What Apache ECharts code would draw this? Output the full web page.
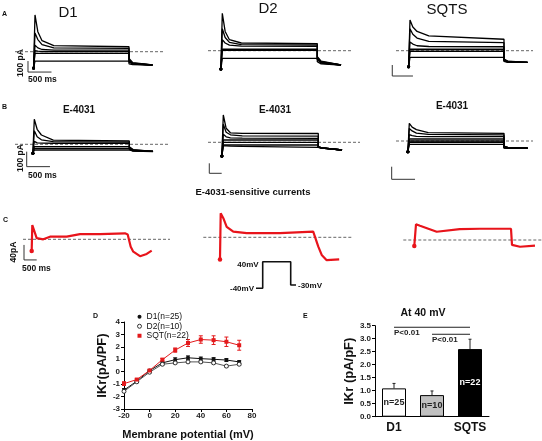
<!DOCTYPE html>
<html><head><meta charset="utf-8">
<script src="https://cdn.jsdelivr.net/npm/echarts@6/dist/echarts.min.js"></script>
<style>html,body{margin:0;padding:0;background:#fff}#c{width:542px;height:441px}</style>
</head><body><div id="c"></div>
<script>
// ================= DATA =================
// Panels A/B: sweeps sampled at shared times (ms, pulse 0..2000, tail to 2500); currents in pA
const traceTimes = [-30, 0, 0, 60, 150, 400, 2000, 2000, 2080, 2500];
const aD1Sweeps = [
  [-148,-148, 334, 182, 100, 55, 45, -60, -100, -121],
  [-148,-148, 170, 110, 65, 35, 31, -70, -105, -121],
  [-148,-148, 60, 35, 20, 15, 15, -80, -108, -121],
  [-148,-148, 10, 5, 2, 0, 0, -88, -110, -121],
  [-148,-148, -15, -15, -15, -15, -15, -95, -112, -121],
  [-148,-148, -85, -85, -85, -85, -85, -110, -118, -121]
];
const aD2Sweeps = [
  [-167,-167, 340, 175, 100, 70, 65, -55, -95, -130],
  [-167,-167, 200, 120, 75, 55, 52, -60, -100, -130],
  [-167,-167, 100, 70, 50, 42, 40, -65, -105, -130],
  [-167,-167, 13, 13, 13, 13, 13, -75, -110, -130],
  [-167,-167, 3, 3, 3, 3, 3, -80, -112, -130],
  [-167,-167, -69, -69, -69, -69, -69, -100, -120, -130]
];
const aSqSweeps = [
  [-146,-146, 280, 215, 175, 135, 104, -75, -95, -106],
  [-146,-146, 200, 150, 115, 85, 73, -80, -98, -106],
  [-146,-146, 80, 60, 45, 38, 36, -85, -100, -106],
  [-146,-146, 13, 13, 13, 13, 13, -88, -102, -106],
  [-146,-146, -5, -5, -5, -5, -5, -92, -103, -106],
  [-146,-146, -60, -60, -60, -60, -60, -98, -105, -106]
];
const bD1Sweeps = [
  [-60,-60, 167, 100, 62, 28, 22, -16, -35, -47],
  [-60,-60, 90, 50, 30, 18, 15, -20, -38, -47],
  [-60,-60, 20, 10, 8, 7, 7, -27, -40, -47],
  [-60,-60, -16, -16, -16, -16, -16, -35, -42, -47],
  [-60,-60, -27, -27, -27, -27, -27, -40, -44, -47],
  [-60,-60, -38, -38, -38, -38, -38, -44, -46, -48]
];
const bD2Sweeps = [
  [-137,-137, 273, 140, 95, 90, 88, -45, -55, -77],
  [-137,-137, 180, 100, 75, 65, 62, -45, -55, -77],
  [-137,-137, 80, 55, 45, 42, 40, -47, -56, -77],
  [-137,-137, 23, 23, 23, 23, 23, -48, -57, -77],
  [-137,-137, 0, 0, 0, 0, 0, -48, -57, -77],
  [-137,-137, -27, -27, -27, -27, -27, -50, -58, -77],
  [-137,-137, -35, -36, -38, -40, -50, -52, -59, -77]
];
const bSqSweeps = [
  [-85,-85, 140, 110, 90, 66, 61, -40, -50, -55],
  [-85,-85, 100, 80, 62, 52, 48, -43, -51, -56],
  [-85,-85, 50, 42, 37, 35, 34, -46, -52, -56],
  [-85,-85, 16, 16, 16, 16, 16, -50, -54, -57],
  [-85,-85, 0, 0, 0, 0, 0, -52, -55, -57],
  [-85,-85, -10, -10, -10, -10, -10, -54, -56, -58],
  [-85,-85, -26, -26, -26, -26, -26, -57, -58, -58]
];
// Panel C: E-4031-sensitive currents (ms, pA)
const cD1Times = [-13, 0, 0, 92, 230, 371, 721, 1000, 1419, 1943, 2000, 2063, 2117, 2258, 2398, 2503];
const cD1Curr  = [-31, -31, 38, 3, 0, 7, 7, 14, 14, 16, 13, -20, -33, -45, -39, -30];
const cD2Times = [-15, 0, 0, 56, 127, 267, 551, 1257, 1962, 2000, 2070, 2142, 2248, 2513];
const cD2Curr  = [-59, -59, 64, 51, 28, 15, 11, 11, 15, 11, -25, -47, -61, -59];
const cSqTimes = [-36, 0, 0, 84, 436, 920, 1347, 2000, 2021, 2189, 2505];
const cSqCurr  = [-16, -16, 42, 38, 22, 29, 30, 30, -13, -18, -15];
// voltage protocol (ms, mV)
const protoTimes = [-480, 0, 0, 2000, 2000, 2380];
const protoVolts = [-40, -40, 40, 40, -30, -30];
// scale bars: [corner time ms, corner current pA, length ms, length pA]
const barAD1 = [-149, -185, 500, 100];
const barASq = [-377, -230, 440, 100];
const barBD1 = [-160, -149, 490, 100];
const barBD2 = [-295, -310, 261, 100];
const barBSq = [-372, -304, 493, 100];
const barCD1 = [-174, -55, 266, 40];

// Panel D: I-V
const ivVoltages = [-20, -10, 0, 10, 20, 30, 40, 50, 60, 70];
const ivD1 = [-1.48, -0.76, 0.09, 0.71, 0.97, 1.12, 1.05, 1.0, 0.94, 0.79];
const ivD1Err = [0.12, 0.08, 0.06, 0.1, 0.15, 0.15, 0.13, 0.13, 0.12, 0.1];
const ivD2 = [-1.58, -0.81, -0.04, 0.6, 0.71, 0.79, 0.79, 0.71, 0.45, 0.6];
const ivD2Err = [0.08, 0.06, 0.05, 0.07, 0.08, 0.08, 0.08, 0.08, 0.08, 0.08];
const ivSq = [-0.96, -0.63, 0.1, 0.97, 1.74, 2.31, 2.59, 2.54, 2.41, 2.13];
const ivSqErr = [0.15, 0.08, 0.06, 0.1, 0.17, 0.28, 0.3, 0.35, 0.38, 0.4];
const ivNames = ['D1(n=25)', 'D2(n=10)', 'SQT(n=22)'];

// Panel E: bars at 40 mV
const barCats = ['D1', 'D2', 'SQTS'];
const barVals = [1.09, 0.83, 2.6];
const barErrs = [0.19, 0.16, 0.38];
const barN = ['n=25', 'n=10', 'n=22'];
const sigPairs = [[0, 2, 3.44], [1, 2, 3.17]];
const sigText = 'P<0.01';

// ================= BUILD =================
const FONT = "'Liberation Sans', Arial, sans-serif";
const grid = [], xAxis = [], yAxis = [], series = [];

function tracePanel(c) {
  const g = grid.length;
  const sx = (c.x1 - c.x0) / 2000;
  grid.push({left:c.gl, top:c.top, width:c.gr - c.gl, height:c.bottom - c.top});
  xAxis.push({type:'value', gridIndex:g, min:(c.gl - c.x0)/sx, max:(c.gr - c.x0)/sx, show:false});
  yAxis.push({type:'value', gridIndex:g, min:-(c.bottom - c.y0)/c.sy, max:(c.y0 - c.top)/c.sy, show:false});
  if (c.dl !== undefined) {
    // dashed reference (zero-current) line
    series.push({type:'line', xAxisIndex:g, yAxisIndex:g, silent:true, symbol:'none', z:1,
      lineStyle:{type:[3,2], color:'#666', width:1},
      data:[[(c.dl - c.x0)/sx, 0], [(c.dr - c.x0)/sx, 0]]});
  }
  return g;
}
function sweepSeries(g, times, vals, color, width, dotSize) {
  series.push({type:'line', xAxisIndex:g, yAxisIndex:g, silent:true, z:2,
    symbol:'circle', symbolSize:0, showAllSymbol:true,
    itemStyle:{color:color}, lineStyle:{color:color, width:width},
    data: times.map((t, i) => i === 0 ? {value:[t, vals[i]], symbolSize:dotSize} : [t, vals[i]])});
}
function scaleBar(g, b) {
  series.push({type:'line', xAxisIndex:g, yAxisIndex:g, silent:true, symbol:'none',
    lineStyle:{color:'#333', width:1},
    data:[[b[0], b[1] + b[3]], [b[0], b[1]], [b[0] + b[2], b[1]]]});
}

// layout configs (pixels)
const panels = [
  {sw:aD1Sweeps, bar:barAD1, cfg:{gl:8, gr:166, dl:15, dr:163, top:5, bottom:82, x0:35, x1:129, y0:51.7, sy:0.11}},
  {sw:aD2Sweeps, bar:null,   cfg:{gl:200, gr:356, dl:208, dr:353, top:5, bottom:82, x0:222.3, x1:317.3, y0:50.7, sy:0.11}},
  {sw:aSqSweeps, bar:barASq, cfg:{gl:385, gr:536, dl:396, dr:533, top:5, bottom:82, x0:410, x1:504, y0:50.7, sy:0.11}},
  {sw:bD1Sweeps, bar:barBD1, cfg:{gl:8, gr:170, dl:15, dr:168, top:100, bottom:172, x0:34.3, x1:129.3, y0:144.3, sy:0.15}},
  {sw:bD2Sweeps, bar:barBD2, cfg:{gl:200, gr:362, dl:208, dr:360, top:100, bottom:176, x0:223.3, x1:318.3, y0:142.3, sy:0.1}},
  {sw:bSqSweeps, bar:barBSq, cfg:{gl:385, gr:536, dl:396, dr:533, top:100, bottom:182, x0:409.3, x1:504, y0:141, sy:0.126}}
];
panels.forEach(p => {
  const g = tracePanel(p.cfg);
  p.sw.forEach(s => sweepSeries(g, traceTimes, s, '#000', 1.3, 3));
  if (p.bar) scaleBar(g, p.bar);
});
const RED = '#e8141b';
const cPanels = [
  {t:cD1Times, v:cD1Curr, bar:barCD1, cfg:{gl:16, gr:172, dl:23, dr:170, top:200, bottom:266, x0:32.3, x1:127.7, y0:239.3, sy:0.375}},
  {t:cD2Times, v:cD2Curr, bar:null, cfg:{gl:198, gr:354, dl:203.3, dr:351.7, top:200, bottom:266, x0:220.7, x1:315, y0:237.3, sy:0.375}},
  {t:cSqTimes, v:cSqCurr, bar:null, cfg:{gl:398, gr:542, dl:403.3, dr:541.7, top:200, bottom:266, x0:416, x1:511, y0:240, sy:0.375}}
];
cPanels.forEach(p => {
  const g = tracePanel(p.cfg);
  sweepSeries(g, p.t, p.v, RED, 2.2, 4.5);
  if (p.bar) scaleBar(g, p.bar);
});
// protocol
{
  const g = tracePanel({gl:250, gr:300, top:255, bottom:295, x0:262.7, x1:290.7, y0:275, sy:0.3325});
  series.push({type:'line', xAxisIndex:g, yAxisIndex:g, silent:true, symbol:'none',
    lineStyle:{color:'#111', width:1.6},
    data: protoTimes.map((t, i) => [t, protoVolts[i]])});
}

// Panel D
const gD = grid.length;
grid.push({left:124, top:322, width:128, height:90});
const axisTxt = {fontFamily:FONT, fontSize:8, fontWeight:'bold', color:'#222'};
xAxis.push({type:'value', gridIndex:gD, min:-20, max:80, interval:20,
  axisLine:{onZero:false, lineStyle:{color:'#000'}}, axisTick:{length:3, lineStyle:{color:'#000'}},
  axisLabel:Object.assign({margin:3}, axisTxt), splitLine:{show:false},
  name:'Membrane potential (mV)', nameLocation:'middle', nameGap:20,
  nameTextStyle:{fontFamily:FONT, fontSize:11, fontWeight:'bold', color:'#111'}});
yAxis.push({type:'value', gridIndex:gD, min:-3, max:4, interval:1,
  axisLine:{show:true, onZero:false, lineStyle:{color:'#000'}}, axisTick:{show:true, length:3, lineStyle:{color:'#000'}},
  axisLabel:Object.assign({margin:4}, axisTxt), splitLine:{show:false},
  name:'IKr(pA/PF)', nameLocation:'middle', nameGap:8,
  nameTextStyle:{fontFamily:FONT, fontSize:13, fontWeight:'bold', color:'#111'}});
function errRender(color) {
  return function (params, api) {
    const x = api.value(0), lo = api.value(1), hi = api.value(2);
    const p1 = api.coord([x, lo]), p2 = api.coord([x, hi]);
    const st = {stroke:color, lineWidth:1};
    return {type:'group', children:[
      {type:'line', shape:{x1:p1[0], y1:p1[1], x2:p2[0], y2:p2[1]}, style:st},
      {type:'line', shape:{x1:p1[0]-2, y1:p1[1], x2:p1[0]+2, y2:p1[1]}, style:st},
      {type:'line', shape:{x1:p2[0]-2, y1:p2[1], x2:p2[0]+2, y2:p2[1]}, style:st}]};
  };
}
const ivSets = [
  {name:ivNames[0], vals:ivD1, err:ivD1Err, color:'#111', symbol:'circle', item:{color:'#111'}},
  {name:ivNames[1], vals:ivD2, err:ivD2Err, color:'#555', symbol:'circle', item:{color:'#fff', borderColor:'#333', borderWidth:1}},
  {name:ivNames[2], vals:ivSq, err:ivSqErr, color:'#e31a1c', symbol:'rect', item:{color:'#e31a1c'}}
];
ivSets.forEach(s => {
  series.push({type:'custom', name:s.name + ' err', xAxisIndex:gD, yAxisIndex:gD, silent:true,
    renderItem:errRender(s.color), encode:{x:0, y:[1,2]},
    data: ivVoltages.map((v, i) => [v, s.vals[i] - s.err[i], s.vals[i] + s.err[i]])});
  series.push({type:'line', name:s.name, xAxisIndex:gD, yAxisIndex:gD, silent:true,
    symbol:s.symbol, symbolSize:4, showAllSymbol:true,
    lineStyle:{color:s.color, width:1}, itemStyle:s.item,
    data: ivVoltages.map((v, i) => [v, s.vals[i]])});
});

// Panel E
const gE = grid.length;
grid.push({left:375, top:325.7, width:114, height:91});
xAxis.push({type:'category', gridIndex:gE, data:barCats,
  axisLine:{onZero:false, lineStyle:{color:'#000'}}, axisTick:{show:false},
  axisLabel:{fontFamily:FONT, fontSize:12, fontWeight:'bold', color:'#111', margin:5}});
yAxis.push({type:'value', gridIndex:gE, min:0, max:3.5, interval:0.5,
  axisLine:{show:true, onZero:false, lineStyle:{color:'#000'}}, axisTick:{show:true, length:3, lineStyle:{color:'#000'}},
  axisLabel:Object.assign({margin:4, formatter:v => v.toFixed(1)}, axisTxt), splitLine:{show:false},
  name:'IKr (pA/pF)', nameLocation:'middle', nameGap:18,
  nameTextStyle:{fontFamily:FONT, fontSize:13, fontWeight:'bold', color:'#111'}});
const barFill = ['#ffffff', '#c0c0c0', '#000000'];
const barLblColor = ['#222', '#222', '#fff'];
series.push({type:'custom', xAxisIndex:gE, yAxisIndex:gE, silent:true, z:1,
  renderItem:function (params, api) {
    const p1 = api.coord([api.value(0), api.value(1)]), p2 = api.coord([api.value(0), api.value(2)]);
    const st = {stroke:'#222', lineWidth:1};
    return {type:'group', children:[
      {type:'line', shape:{x1:p1[0], y1:p1[1], x2:p2[0], y2:p2[1]}, style:st},
      {type:'line', shape:{x1:p2[0]-1.5, y1:p2[1], x2:p2[0]+1.5, y2:p2[1]}, style:st}]};
  },
  data: barVals.map((v, i) => [i, v, v + barErrs[i]])});
series.push({type:'bar', xAxisIndex:gE, yAxisIndex:gE, silent:true, barWidth:24, z:2,
  data: barVals.map((v, i) => ({value:v,
    itemStyle:{color:barFill[i], borderColor:'#000', borderWidth:1},
    label:{show:true, position:'inside', formatter:barN[i], color:barLblColor[i],
      fontFamily:FONT, fontSize:9, fontWeight:'bold'}}))});
series.push({type:'custom', xAxisIndex:gE, yAxisIndex:gE, silent:true,
  renderItem:function (params, api) {
    const a = api.coord([api.value(0), api.value(2)]), b = api.coord([api.value(1), api.value(2)]);
    return {type:'group', children:[
      {type:'line', shape:{x1:a[0], y1:a[1], x2:b[0], y2:b[1]}, style:{stroke:'#222', lineWidth:1}},
      {type:'text', x:a[0], y:a[1] + 1.5, style:{text:sigText, fill:'#222', font:'bold 8px ' + FONT,
        textAlign:'left', textVerticalAlign:'top'}}]};
  },
  data: sigPairs});

// Text annotations
function txt(text, x, y, font, align, opts) {
  return Object.assign({type:'text', x:x, y:y, silent:true,
    style:{text:text, font:font, fill:'#111', textAlign:align || 'center', textVerticalAlign:'middle'}}, opts || {});
}
const letterF = 'bold 7px ' + FONT;
const titleF = '15px ' + FONT;
const eF = 'bold 10px ' + FONT;
const sbF = 'bold 8.5px ' + FONT;
const rot = {rotation:Math.PI / 2};
const graphic = [
  txt('A', 2, 14, letterF, 'left'), txt('B', 2, 107, letterF, 'left'), txt('C', 3, 220, letterF, 'left'),
  txt('D', 93, 316, letterF, 'left'), txt('E', 303, 316, letterF, 'left'),
  txt('D1', 68, 13, titleF), txt('D2', 268, 9, titleF), txt('SQTS', 447, 10, titleF),
  txt('E-4031', 79, 110, eF), txt('E-4031', 275, 110, eF), txt('E-4031', 452, 106, eF),
  txt('E-4031-sensitive currents', 253, 192, 'bold 9.5px ' + FONT),
  txt('100 pA', 21, 63, sbF, 'center', rot), txt('500 ms', 28, 80, sbF, 'left'),
  txt('100 pA', 21, 158, sbF, 'center', rot), txt('500 ms', 28, 176, sbF, 'left'),
  txt('40pA', 14, 252, sbF, 'center', rot), txt('500 ms', 22, 269, sbF, 'left'),
  txt('40mV', 248, 265, 'bold 8px ' + FONT), txt('-40mV', 242, 288.5, 'bold 8px ' + FONT),
  txt('-30mV', 298, 286, 'bold 8px ' + FONT, 'left'),
  txt('At 40 mV', 423, 313, 'bold 10.5px ' + FONT)
];

const chart = echarts.init(document.getElementById('c'), null, {renderer:'canvas'});
chart.setOption({
  animation:false, backgroundColor:'#fff',
  grid, xAxis, yAxis, series, graphic,
  legend:{data:[
      {name:ivNames[0], icon:'circle', itemStyle:{color:'#111'}},
      {name:ivNames[1], icon:'circle', itemStyle:{color:'#fff', borderColor:'#333', borderWidth:1}},
      {name:ivNames[2], icon:'rect', itemStyle:{color:'#e31a1c'}}],
    orient:'vertical', left:132, top:307, itemWidth:4, itemHeight:4, itemGap:0,
    selectedMode:false,
    textStyle:{fontFamily:FONT, fontSize:8.5, color:'#111', lineHeight:9.5}}
});
</script></body></html>
